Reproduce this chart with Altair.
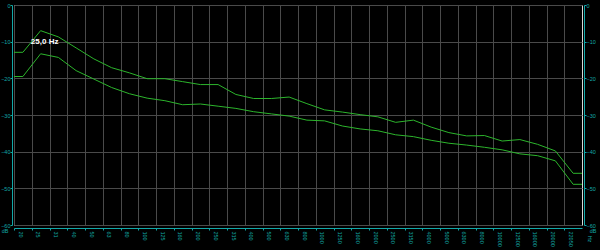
import altair as alt
import pandas as pd

freqs = ["20", "25", "31", "40", "50", "63", "80", "100", "125", "160", "200", "250",
         "315", "400", "500", "630", "800", "1000", "1250", "1600", "2000", "2500",
         "3150", "4000", "5000", "6300", "8000", "10000", "12500", "16000", "20000", "22050"]
upper = [-12.9, -7.0, -8.7, -11.7, -14.7, -17.1, -18.5, -20.1, -20.1, -20.9, -21.7, -21.7,
         -24.4, -25.5, -25.5, -25.1, -26.9, -28.6, -29.2, -29.9, -30.5, -32.0,
         -31.4, -33.3, -34.8, -35.7, -35.6, -37.1, -36.7, -38.0, -39.8, -45.9]
lower = [-19.5, -13.3, -14.3, -17.9, -20.2, -22.5, -24.2, -25.4, -26.1, -27.2, -27.0, -27.6,
         -28.2, -29.1, -29.7, -30.3, -31.4, -31.6, -33.0, -33.8, -34.3, -35.4,
         -35.9, -36.9, -37.7, -38.2, -38.8, -39.5, -40.6, -41.1, -42.5, -48.9]
y_ticks = [0, -10, -20, -30, -40, -50, -60]
peak_label = "25,0 Hz"
peak_index = 1

CYAN = "#12a8a8"
GREEN = "#2cb52c"
GRID = "#4a4a4a"
FONT = "Liberation Sans"
SMALL = 5.5

n = len(freqs)
rows = []
for name, vals in (("upper", upper), ("lower", lower)):
    # band centres, with the end values held flat out to the plot edges
    rows.append({"series": name, "x": 0.0, "db": vals[0]})
    for i, v in enumerate(vals):
        rows.append({"series": name, "x": i + 0.5, "db": v})
    rows.append({"series": name, "x": float(n), "db": vals[-1]})
df = pd.DataFrame(rows)

label_js = "[" + ",".join("'%s'" % f for f in freqs) + "][datum.value]"

xscale = alt.Scale(domain=[0, n], nice=False, zero=False)
yscale = alt.Scale(domain=[-60, 0], nice=False, zero=False)

xaxis = alt.Axis(
    values=list(range(n)), labelExpr=label_js, title=None,
    grid=True, gridColor=GRID, gridWidth=1,
    domainColor=CYAN, domainWidth=1, offset=3,
    tickColor=CYAN, tickSize=2,
    labelColor=CYAN, labelFont=FONT, labelFontSize=SMALL, labelAngle=90,
    labelAlign="left", labelBaseline="middle", labelOffset=6, labelPadding=1,
    labelOverlap=False, labelBound=False, labelFlush=False,
)
yaxis_left = alt.Axis(
    values=y_ticks, title=None, orient="left",
    grid=True, gridColor=GRID, gridWidth=1,
    domainColor=CYAN, domainWidth=1, offset=2,
    tickColor=CYAN, tickSize=2,
    labelColor=CYAN, labelFont=FONT, labelFontSize=SMALL, labelPadding=0,
    labelOverlap=False, labelFlush=False,
)
yaxis_right = alt.Axis(
    values=y_ticks, title=None, orient="right",
    grid=False,
    domainColor=CYAN, domainWidth=1, offset=2,
    tickColor=CYAN, tickSize=2,
    labelColor=CYAN, labelFont=FONT, labelFontSize=SMALL, labelPadding=0,
    labelOverlap=False, labelFlush=False,
)

lines = alt.Chart(df).mark_line(strokeWidth=1, interpolate="linear").encode(
    x=alt.X("x:Q", scale=xscale, axis=xaxis),
    y=alt.Y("db:Q", scale=yscale, axis=yaxis_left),
    color=alt.Color("series:N", scale=alt.Scale(domain=["upper", "lower"], range=[GREEN, GREEN]), legend=None),
)

right_axis = alt.Chart(df).mark_line(opacity=0).encode(
    x=alt.X("x:Q", scale=xscale, axis=xaxis),
    y=alt.Y("db:Q", scale=yscale, axis=yaxis_right),
    detail="series:N",
)

ann_df = pd.DataFrame({"x": [peak_index + 0.5], "db": [-10], "t": [peak_label]})
ann = alt.Chart(ann_df).mark_text(
    color="white", font=FONT, fontSize=8, fontWeight="bold", align="center", baseline="middle", dx=4
).encode(
    x=alt.X("x:Q", scale=xscale, axis=xaxis),
    y=alt.Y("db:Q", scale=yscale, axis=None),
    text="t:N",
)

unit_l = alt.Chart(pd.DataFrame({"t": ["dB"]})).mark_text(
    color=CYAN, font=FONT, fontSize=SMALL, align="center", baseline="middle"
).encode(x=alt.value(-9), y=alt.value(226), text="t:N")
unit_r = alt.Chart(pd.DataFrame({"t": ["dB"]})).mark_text(
    color=CYAN, font=FONT, fontSize=SMALL, align="center", baseline="middle"
).encode(x=alt.value(579), y=alt.value(226), text="t:N")
unit_hz = alt.Chart(pd.DataFrame({"t": ["Hz"]})).mark_text(
    color=CYAN, font=FONT, fontSize=SMALL, align="center", baseline="middle", angle=90
).encode(x=alt.value(576), y=alt.value(234), text="t:N")

chart = alt.layer(lines, right_axis, ann, unit_l, unit_r, unit_hz).resolve_axis(
    y="independent"
).properties(
    width=568, height=220,
    background="black",
    padding={"left": 14, "top": 5, "right": 18, "bottom": 25},
    autosize=alt.AutoSizeParams(type="none"),
).configure_view(
    stroke="#d8d8d8", strokeWidth=1, fill="black"
)

chart.save("out.html", embed_options={"renderer": "svg", "actions": False})
